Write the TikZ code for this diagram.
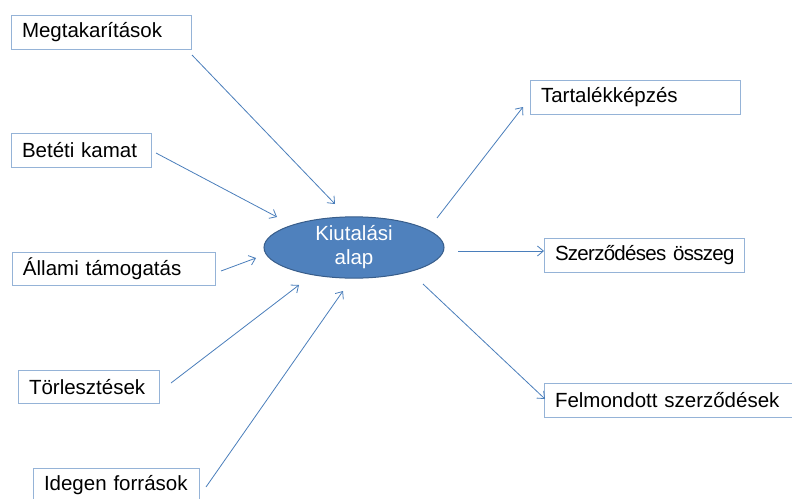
\documentclass[tikz,border=0pt]{standalone}
\usepackage{fontspec}
\setmainfont{Liberation Sans}
\usetikzlibrary{arrows.meta,shapes.geometric}
\definecolor{boxc}{RGB}{149,179,215}
\definecolor{arrc}{RGB}{74,126,187}
\definecolor{ellfill}{RGB}{79,129,189}
\definecolor{elldraw}{RGB}{56,93,138}
\begin{document}
\begin{tikzpicture}[x=1pt,y=-1pt,
  box/.style={draw=boxc, line width=1pt, anchor=north west, inner xsep=10.5pt, inner ysep=0pt,
    align=left, font=\fontsize{20.5}{24}\selectfont, text=black},
  conn/.style={draw=arrc, line width=0.8pt, -{Straight Barb[length=6pt,width=10pt]}},
  hub/.style={ellipse, fill=ellfill, draw=elldraw, line width=1pt, inner sep=0pt,
    minimum width=180pt, minimum height=61pt, text=white, align=center,
    font=\fontsize{20.5}{24}\selectfont}]
\useasboundingbox (0,0) rectangle (792,498);
% boxes
\node[box, text width=159pt, minimum height=34pt] (m) at (11,15) {\mbox{Megtakarítások}};
\node[box, text width=119pt, minimum height=34pt] (b) at (11,133) {\mbox{Betéti kamat}};
\node[box, text width=182pt, minimum height=33pt] (a) at (12,252) {\mbox{Állami támogatás}};
\node[box, text width=120pt, minimum height=33pt] (t) at (18,370) {\mbox{Törlesztések}};
\node[box, text width=145pt, minimum height=34pt] (i) at (33,468) {\mbox{Idegen források}};
\node[box, text width=189pt, minimum height=34pt] (tk) at (530,80) {\mbox{Tartalékképzés}};
\node[box, text width=179pt, minimum height=34pt] (sz) at (544,238) {\mbox{\addfontfeature{LetterSpace=-3.5}Szerződéses összeg}};
\node[box, text width=239pt, minimum height=34pt] (f) at (544,383) {\mbox{Felmondott szerződések}};
% hub
\node[hub] (k) at (354,247.5) {Kiutalási\\alap};
% connector end points
\coordinate (m1) at (192,55);   \coordinate (m2) at (335,204);
\coordinate (b1) at (156,153);  \coordinate (b2) at (277,217);
\coordinate (a1) at (221,271);  \coordinate (a2) at (256,258);
\coordinate (t1) at (171,383);  \coordinate (t2) at (299,285);
\coordinate (i1) at (206,487);  \coordinate (i2) at (343,291);
\coordinate (tk1) at (437,218); \coordinate (tk2) at (523,107);
\coordinate (sz1) at (458,251); \coordinate (sz2) at (544,251);
\coordinate (f1) at (423,284);  \coordinate (f2) at (545,399);
\draw[conn] (m1) -- (m2);
\draw[conn] (b1) -- (b2);
\draw[conn] (a1) -- (a2);
\draw[conn] (t1) -- (t2);
\draw[conn] (i1) -- (i2);
\draw[conn] (tk1) -- (tk2);
\draw[conn] (sz1) -- (sz2);
\draw[conn] (f1) -- (f2);
\end{tikzpicture}
\end{document}
